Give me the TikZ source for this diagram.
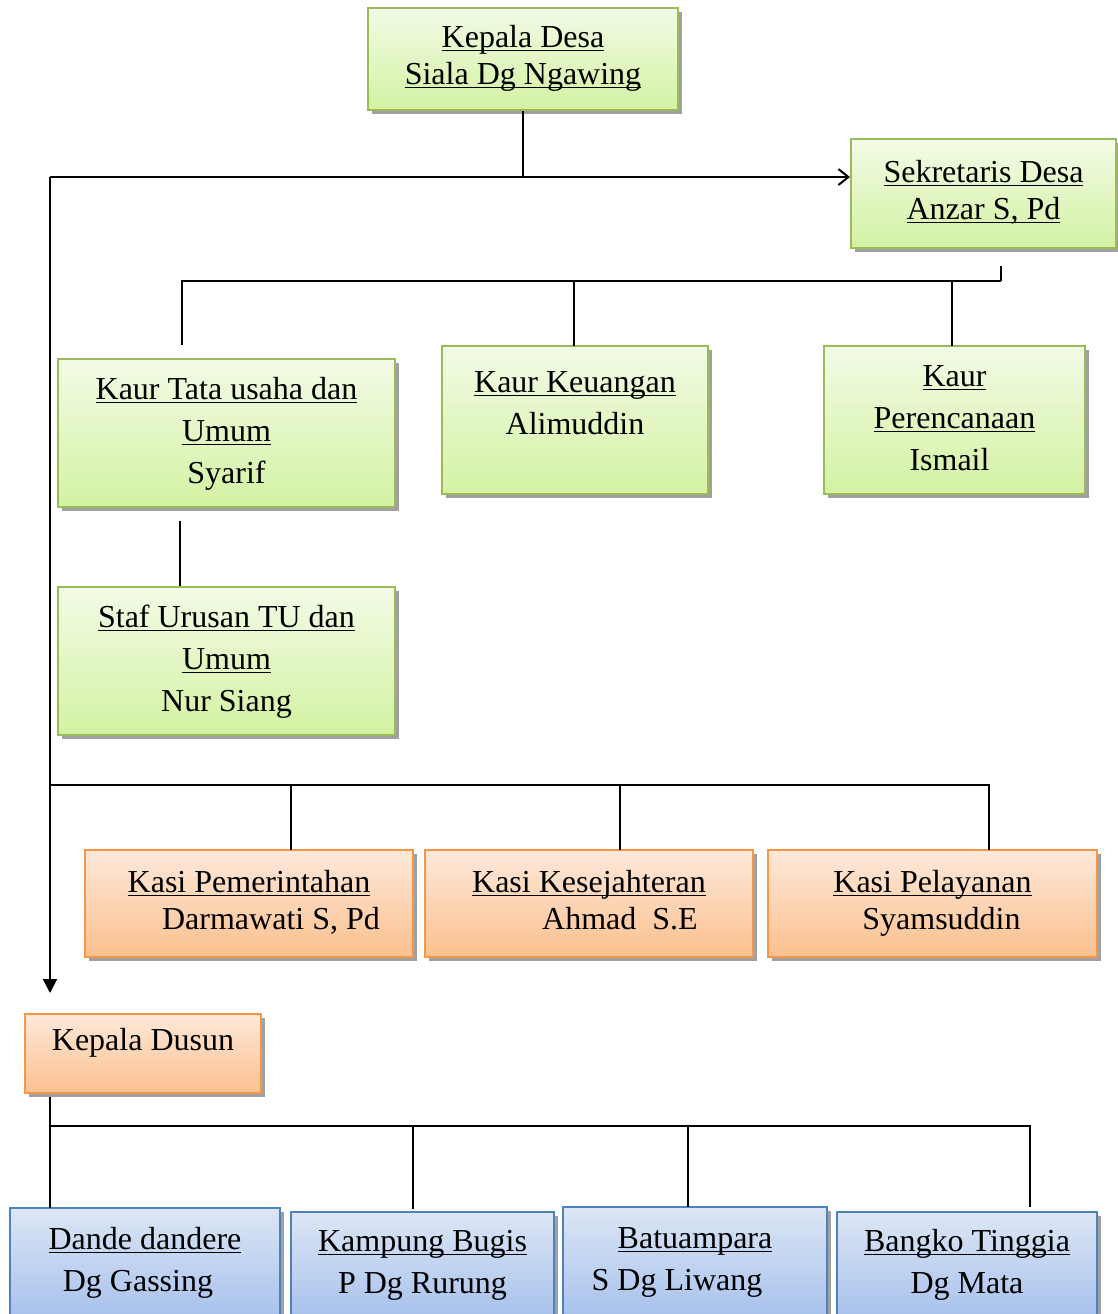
\documentclass[tikz,border=0pt]{standalone}
\usepackage{fontspec}
\setmainfont{Liberation Serif}
\usetikzlibrary{shadows, arrows.meta}

\definecolor{greenedge}{HTML}{9BBB59}
\definecolor{greentop}{HTML}{F2FBE6}
\definecolor{greenbot}{HTML}{D3F2A2}
\definecolor{orangeedge}{HTML}{F79646}
\definecolor{orangetop}{HTML}{FDE9DA}
\definecolor{orangebot}{HTML}{FBC08E}
\definecolor{blueedge}{HTML}{4F81BD}
\definecolor{bluetop}{HTML}{DCE6F5}
\definecolor{bluebot}{HTML}{A8C2EC}
\definecolor{shadowgray}{HTML}{A0A0A0}

% underline at a fixed distance below the baseline
\newcommand\under[1]{\underline{\raisebox{0pt}[\height][0pt]{#1}}}

\begin{document}
\begin{tikzpicture}[
  x=0.5pt, y=-0.5pt,
  line width=1pt,
  unitbox/.style={
    draw,
    rectangle,
    inner sep=0pt,
    line width=1pt,
    align=center,
    font=\fontsize{16}{18.5}\selectfont,
    general shadow={fill=shadowgray, shadow xshift=2pt, shadow yshift=-2pt}
    },
  loose/.style={font=\fontsize{16}{21}\selectfont},
  greenbox/.style={unitbox, draw=greenedge, top color=greentop, bottom color=greenbot},
  orangebox/.style={unitbox, draw=orangeedge, top color=orangetop, bottom color=orangebot},
  bluebox/.style={unitbox, draw=blueedge, top color=bluetop, bottom color=bluebot}
]
\useasboundingbox (0,0) rectangle (1118,1314);

% top of the village
\node[greenbox, minimum width=155pt, minimum height=51pt] (desa) at (523,59)
  {\strut\under{Kepala Desa}\\\under{Siala Dg Ngawing}\strut};
\node[greenbox, minimum width=132.5pt, minimum height=54.5pt] (sekdes) at (983.5,193.5)
  {\strut\under{Sekretaris Desa}\\\under{Anzar S, Pd}\strut};

% kaur
\node[greenbox, loose, minimum width=168.5pt, minimum height=74pt] (kaurtu) at (226.5,433)
  {\strut\under{Kaur Tata usaha dan}\\\under{Umum}\\Syarif\strut};
\node[greenbox, loose, minimum width=133pt, minimum height=74pt] (kaurkeu) at (575,420)
  {\strut\under{Kaur Keuangan}\\Alimuddin\\[-6pt]\strut};
\node[greenbox, loose, minimum width=130.5pt, minimum height=74pt] (kaurren) at (954.5,420)
  {\strut\under{Kaur}\\\under{Perencanaan}\\Ismail\hspace*{5pt}\strut};
\node[greenbox, loose, minimum width=168.5pt, minimum height=74pt] (staf) at (226.5,661)
  {\strut\under{Staf Urusan TU dan}\\\under{Umum}\\Nur Siang\strut};

% kasi
\node[orangebox, minimum width=164pt, minimum height=53.5pt] (kasipem) at (249,903.5)
  {\strut\under{Kasi Pemerintahan}\\\hspace*{22pt}Darmawati S, Pd\strut};
\node[orangebox, minimum width=164pt, minimum height=53.5pt] (kasikes) at (589,903.5)
  {\strut\under{Kasi Kesejahteran}\\\hspace*{31pt}Ahmad\ \ S.E\strut};
\node[orangebox, minimum width=164.5pt, minimum height=53.5pt] (kasipel) at (932.5,903.5)
  {\strut\under{Kasi Pelayanan}\\\hspace*{9pt}Syamsuddin\strut};

% dusun
\node[orangebox, minimum width=118pt, minimum height=39.5pt] (kadus) at (143,1053.5)
  {\strut Kepala Dusun\\[-8pt]\strut};
\node[bluebox, loose, minimum width=135pt, minimum height=54pt] (dande) at (145,1262)
  {\strut\under{Dande dandere}\\Dg Gassing\hspace*{7pt}\strut};
\node[bluebox, loose, minimum width=131.5pt, minimum height=52pt] (kampung) at (422.5,1264)
  {\strut\under{Kampung Bugis}\\P Dg Rurung\strut};
\node[bluebox, loose, minimum width=132pt, minimum height=54.5pt] (batu) at (695,1261.5)
  {\strut\under{Batuampara}\\S Dg Liwang\hspace*{18pt}\strut};
\node[bluebox, loose, minimum width=130pt, minimum height=52pt] (bangko) at (967,1264)
  {\strut\under{Bangko Tinggia}\\Dg Mata\strut};

% connector points
\coordinate (trunk) at (50,177);
\coordinate (trunkend) at (50,993);
\coordinate (sektop) at (1001,266);
\coordinate (sekbus) at (1001,281);
\coordinate (d1) at (182,345);
\coordinate (d2) at (574,346);
\coordinate (d3) at (952,346);
\coordinate (tu1) at (180,521);
\coordinate (tu2) at (180,586);
\coordinate (kasibus) at (50,785);
\coordinate (k1) at (291,850);
\coordinate (k2) at (620,850);
\coordinate (k3) at (989,850);
\coordinate (dustop) at (50,1097);
\coordinate (dusbus) at (50,1126);
\coordinate (u1) at (50,1208);
\coordinate (u2) at (413,1209);
\coordinate (u3) at (688,1207);
\coordinate (u4) at (1030,1207);

\draw (desa.south) -- (desa.south |- trunk);
\draw[-{Straight Barb[length=5pt,width=8pt]}] (trunk) -- (trunk -| sekdes.west);
\draw[-{Triangle[length=7pt,width=7pt]}] (trunk) -- (trunkend);

\draw (sektop) -- (sekbus);
\draw (sekbus) -| (d1);
\draw (sekbus) -| (d2);
\draw (sekbus) -| (d3);
\draw (tu1) -- (tu2);

\draw (kasibus) -| (k1);
\draw (kasibus) -| (k2);
\draw (kasibus) -| (k3);

\draw (dustop) -- (u1);
\draw (dusbus) -| (u2);
\draw (dusbus) -| (u3);
\draw (dusbus) -| (u4);

\end{tikzpicture}
\end{document}
